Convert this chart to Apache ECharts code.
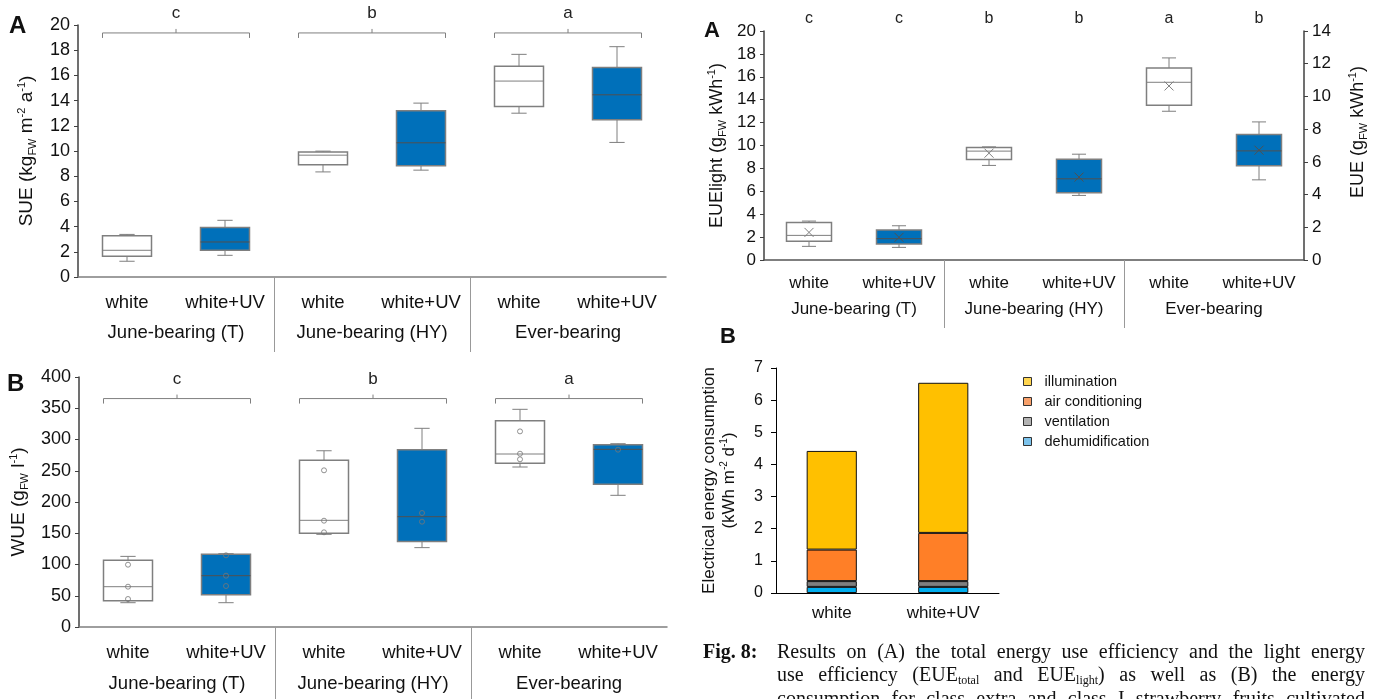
<!DOCTYPE html>
<html>
<head>
<meta charset="utf-8">
<script src="https://cdn.jsdelivr.net/npm/echarts@6/dist/echarts.min.js"></script>
<style>
  html, body { margin: 0; padding: 0; background: #fff; overflow: hidden; }
  #chart { position: absolute; left: 0; top: 0; width: 1384px; height: 699px; }
  #caption { position: absolute; left: 703px; top: 640px; width: 662px; color: #111;
    font-family: 'Liberation Serif', 'Times New Roman', serif; font-size: 20px; line-height: 23.3px; }
  #caption .fig { position: absolute; left: 0; top: 0; font-weight: bold; }
  #caption .txt { position: absolute; left: 74px; top: 0; width: 588px; }
  #caption .ln { text-align: justify; text-align-last: justify; height: 23.3px; }
  #caption sub { font-size: 12px; line-height: 0; vertical-align: -3px; }
</style>
</head>
<body>
<div id="chart"></div>
<div id="caption">
  <div class="fig">Fig. 8:</div>
  <div class="txt">
    <div class="ln">Results on (A) the total energy use efficiency and the light energy</div>
    <div class="ln">use efficiency (EUE<sub>total</sub> and EUE<sub>light</sub>) as well as (B) the energy</div>
    <div class="ln">consumption for class extra and class I strawberry fruits cultivated</div>
  </div>
</div>
<script>
// categories / groups
var categories = ['white', 'white+UV', 'white', 'white+UV', 'white', 'white+UV'];
var groups = ['June-bearing (T)', 'June-bearing (HY)', 'Ever-bearing'];

// SUE: [min, q1, median, q3, max] per cultivar
var sueWhite = [[1.25, 1.64, 2.12, 3.27, 3.38], [8.34, 8.9, 9.67, 9.93, 9.99], [13.0, 13.54, 15.55, 16.72, 17.67]];
var sueUV = [[1.72, 2.12, 2.78, 3.92, 4.5], [8.48, 8.82, 10.65, 13.19, 13.8], [10.68, 12.48, 14.46, 16.62, 18.28]];
var sueLetters = ['c', 'b', 'a'];

// WUE
var wueWhite = [[38.9, 42.1, 64.5, 106.7, 113], [148.3, 149.9, 170.7, 266.7, 282], [256, 261.9, 276.8, 330.1, 348.3]];
var wueUV = [[38.9, 51.7, 82.1, 116.3, 117.3], [127, 137, 176.5, 283.7, 317.9], [210.7, 228.3, 284.3, 291.7, 293.3]];
var wuePoints = [[99.7, 64.5, 44.8], [114.7, 82.1, 65.6], [250.7, 170.1, 151.5], [182.4, 168.5], [313, 277.3, 268.3], [283.7]];
var wueLetters = ['c', 'b', 'a'];

// EUElight: [min, q1, median, q3, max, mean]
var eueWhite = [[1.19, 1.63, 2.15, 3.28, 3.40, 2.41], [8.26, 8.78, 9.51, 9.83, 9.88, 9.33], [12.99, 13.52, 15.52, 16.77, 17.65, 15.2]];
var eueUV = [[1.10, 1.40, 1.86, 2.62, 2.99, 1.98], [5.64, 5.87, 7.09, 8.81, 9.24, 7.24], [7.0, 8.23, 9.53, 10.96, 12.06, 9.59]];
var eueLetters = ['c', 'c', 'b', 'b', 'a', 'b'];

// electrical energy consumption (stacked)
var barCats = ['white', 'white+UV'];
var dehumidification = [0.19, 0.19];
var ventilation = [0.18, 0.18];
var airConditioning = [0.98, 1.50];
var illumination = [3.07, 4.67];

// annotation levels (axis units)
var SUE_BRACKET = 19.37, SUE_LETTER = 20.96;
var WUE_BRACKET = 365.5, WUE_LETTER = 395.8;
var EUE_LETTER = 21.07;

var FONT = 'Liberation Sans, Arial, sans-serif';
var GRAY = '#7f7f7f';
var BLUE = '#0070ba';

var chart = echarts.init(document.getElementById('chart'));

function withIndex(arr, start, step) {
  return arr.map(function (d, i) { return [start + i * step].concat(d); });
}

function boxRender(fill, medianColor, withMean) {
  return function (params, api) {
    var x = api.value(0);
    var band = api.size([1, 0])[0];
    var cx = api.coord([x, 0])[0];
    var half = band * 0.25, cap = band * 0.078;
    var y = function (i) { return api.coord([x, api.value(i)])[1]; };
    var yMin = y(1), yQ1 = y(2), yMed = y(3), yQ3 = y(4), yMax = y(5);
    var ls = { stroke: GRAY, lineWidth: 1 };
    var kids = [
      { type: 'line', shape: { x1: cx, y1: yMax, x2: cx, y2: yQ3 }, style: ls },
      { type: 'line', shape: { x1: cx, y1: yQ1, x2: cx, y2: yMin }, style: ls },
      { type: 'line', shape: { x1: cx - cap, y1: yMax, x2: cx + cap, y2: yMax }, style: ls },
      { type: 'line', shape: { x1: cx - cap, y1: yMin, x2: cx + cap, y2: yMin }, style: ls },
      { type: 'rect', shape: { x: cx - half, y: yQ3, width: half * 2, height: yQ1 - yQ3 },
        style: { fill: fill, stroke: GRAY, lineWidth: 1.5 } },
      { type: 'line', shape: { x1: cx - half, y1: yMed, x2: cx + half, y2: yMed },
        style: { stroke: medianColor, lineWidth: 1 } }
    ];
    if (withMean) {
      var ym = y(6), m = 4.5;
      kids.push({ type: 'line', shape: { x1: cx - m, y1: ym - m, x2: cx + m, y2: ym + m }, style: { stroke: medianColor, lineWidth: 1 } });
      kids.push({ type: 'line', shape: { x1: cx - m, y1: ym + m, x2: cx + m, y2: ym - m }, style: { stroke: medianColor, lineWidth: 1 } });
    }
    return { type: 'group', children: kids };
  };
}

function bracketRender(letters) {
  return function (params, api) {
    var band = api.size([1, 0])[0];
    var x1 = api.coord([api.value(0), 0])[0] - band * 0.25;
    var x2 = api.coord([api.value(1), 0])[0] + band * 0.25;
    var yb = api.coord([api.value(0), api.value(2)])[1];
    var yt = api.coord([api.value(0), api.value(3)])[1];
    var xm = (x1 + x2) / 2;
    var ls = { stroke: GRAY, lineWidth: 1, fill: 'none' };
    return { type: 'group', children: [
      { type: 'polyline', shape: { points: [[x1, yb + 5], [x1, yb], [x2, yb], [x2, yb + 5]] }, style: ls },
      { type: 'line', shape: { x1: xm, y1: yb, x2: xm, y2: yb - 4 }, style: ls },
      { type: 'text', style: { text: letters[params.dataIndex], x: xm, y: yt, fill: '#222',
        fontSize: 17, fontFamily: FONT, align: 'center', verticalAlign: 'middle' } }
    ] };
  };
}

function letterRender(letters) {
  return function (params, api) {
    var p = api.coord([api.value(0), api.value(1)]);
    return { type: 'text', style: { text: letters[params.dataIndex], x: p[0], y: p[1], fill: '#222',
      fontSize: 16, fontFamily: FONT, align: 'center', verticalAlign: 'middle' } };
  };
}

function sepRender(len) {
  return function (params, api) {
    var band = api.size([1, 0])[0];
    var p = api.coord([api.value(0), 0]);
    var x = Math.round(p[0] + band / 2) + 0.5;
    return { type: 'line', shape: { x1: x, y1: p[1], x2: x, y2: p[1] + len }, style: { stroke: '#999', lineWidth: 1 } };
  };
}

function catAxis(grid, fs, margin, tickAlign, axisColor) {
  return {
    type: 'category', gridIndex: grid, position: 'bottom', data: categories, boundaryGap: true,
    axisLine: { lineStyle: { color: axisColor, width: 1.5 } },
    axisTick: { alignWithLabel: tickAlign, length: 4, lineStyle: { color: GRAY } },
    axisLabel: { fontSize: fs, fontFamily: FONT, color: '#111', margin: margin, interval: 0 },
    splitLine: { show: false }
  };
}
function boundaryTicks(grid) {
  return {
    type: 'category', gridIndex: grid, position: 'bottom', data: categories,
    axisLine: { show: false }, axisLabel: { show: false },
    axisTick: { length: 4, lineStyle: { color: GRAY } }, splitLine: { show: false }
  };
}
function groupAxis(grid, fs, margin) {
  return {
    type: 'category', gridIndex: grid, position: 'bottom', data: groups,
    axisLine: { show: false }, axisTick: { show: false },
    axisLabel: { fontSize: fs, fontFamily: FONT, color: '#111', margin: margin, interval: 0 },
    splitLine: { show: false }
  };
}
function valAxis(grid, max, interval, fs, name, gap, extra) {
  var ax = {
    type: 'value', gridIndex: grid, min: 0, max: max, interval: interval,
    axisLine: { show: true, lineStyle: { color: '#404040', width: 1.5 } },
    axisTick: { show: true, length: 4, lineStyle: { color: '#404040' } },
    axisLabel: { fontSize: fs, fontFamily: FONT, color: '#111', margin: 8 },
    splitLine: { show: false },
    name: name, nameLocation: 'middle', nameRotate: 90, nameGap: gap,
    nameTextStyle: {
      fontSize: fs + 1, fontFamily: FONT, color: '#111', lineHeight: 22,
      rich: {
        sub: { fontSize: 11, fontFamily: FONT, color: '#111', lineHeight: 8, verticalAlign: 'bottom' },
        sup: { fontSize: 11, fontFamily: FONT, color: '#111', lineHeight: 8, verticalAlign: 'top' }
      }
    }
  };
  if (extra) {
    if (extra.padding) ax.nameTextStyle.padding = extra.padding;
    if (extra.position) ax.position = extra.position;
  }
  return ax;
}

var sueBrackets = [0, 1, 2].map(function (g) { return [g * 2, g * 2 + 1, SUE_BRACKET, SUE_LETTER]; });
var wueBrackets = [0, 1, 2].map(function (g) { return [g * 2, g * 2 + 1, WUE_BRACKET, WUE_LETTER]; });
var eueLetterData = eueLetters.map(function (l, i) { return [i, EUE_LETTER]; });
var wuePointData = [];
wuePoints.forEach(function (pts, i) { pts.forEach(function (v) { wuePointData.push([i, v]); }); });
var separators = [[1], [3]];

var legendColors = { 'illumination': '#ffd54f', 'air conditioning': '#f8a06a', 'ventilation': '#b3b3b3', 'dehumidification': '#7cc3ec' };

var option = {
  animation: false,
  title: [
    { text: 'A', left: 9, top: 14, padding: 0, textStyle: { fontSize: 24, fontWeight: 'bold', fontFamily: FONT, color: '#111' } },
    { text: 'B', left: 7, top: 372, padding: 0, textStyle: { fontSize: 24, fontWeight: 'bold', fontFamily: FONT, color: '#111' } },
    { text: 'A', left: 704, top: 20, padding: 0, textStyle: { fontSize: 22, fontWeight: 'bold', fontFamily: FONT, color: '#111' } },
    { text: 'B', left: 720, top: 326, padding: 0, textStyle: { fontSize: 22, fontWeight: 'bold', fontFamily: FONT, color: '#111' } }
  ],
  legend: {
    orient: 'vertical', left: 1018, top: 369, itemWidth: 8, itemHeight: 8, itemGap: 5, icon: 'rect',
    itemStyle: { borderColor: '#333', borderWidth: 1 },
    textStyle: { fontSize: 14.5, fontFamily: FONT, color: '#111', padding: [0, 0, 0, 8] },
    data: ['illumination', 'air conditioning', 'ventilation', 'dehumidification'].map(function (n) {
      return { name: n, itemStyle: { color: legendColors[n] } };
    })
  },
  grid: [
    { left: 78, top: 25, width: 588, height: 252, outerBoundsMode: 'none' },
    { left: 79, top: 377, width: 588, height: 250, outerBoundsMode: 'none' },
    { left: 764, top: 31, width: 540, height: 229, outerBoundsMode: 'none' },
    { left: 776, top: 368, width: 223, height: 225, outerBoundsMode: 'none' }
  ],
  xAxis: [
    catAxis(0, 18.5, 16, true, GRAY), boundaryTicks(0), groupAxis(0, 18.5, 46),
    catAxis(1, 18.5, 16, true, GRAY), boundaryTicks(1), groupAxis(1, 18.5, 47),
    catAxis(2, 17, 15, true, '#555'), groupAxis(2, 17, 41),
    {
      type: 'category', gridIndex: 3, position: 'bottom', data: barCats,
      axisLine: { lineStyle: { color: '#000', width: 1 } },
      axisTick: { alignWithLabel: true, length: 5, lineStyle: { color: '#000' } },
      axisLabel: { fontSize: 17, fontFamily: FONT, color: '#111', margin: 12 }
    }
  ],
  yAxis: [
    valAxis(0, 20, 2, 18, 'SUE (kg{sub|FW} m{sup|-2} a{sup|-1})', 40),
    valAxis(1, 400, 50, 18, 'WUE (g{sub|FW} l{sup|-1})', 49),
    valAxis(2, 20, 2, 17, 'EUElight (g{sub|FW} kWh{sup|-1})', 36),
    valAxis(2, 14, 2, 17, 'EUE (g{sub|FW} kWh{sup|-1})', 43, { position: 'right', padding: [0, 0, 0, 27] }),
    {
      type: 'value', gridIndex: 3, min: 0, max: 7, interval: 1,
      axisLine: { show: true, lineStyle: { color: '#000' } },
      axisTick: { show: true, length: 5, lineStyle: { color: '#000' } },
      axisLabel: { fontSize: 16, fontFamily: FONT, color: '#111', margin: 13 },
      splitLine: { show: false },
      name: 'Electrical energy consumption\n(kWh m{sup|-2} d{sup|-1})', nameLocation: 'middle', nameRotate: 90, nameGap: 37,
      nameTextStyle: {
        fontSize: 17, fontFamily: FONT, color: '#111', lineHeight: 20,
        rich: { sup: { fontSize: 10, fontFamily: FONT, color: '#111', lineHeight: 8, verticalAlign: 'top' } }
      }
    }
  ],
  series: [
    // SUE
    { type: 'custom', xAxisIndex: 0, yAxisIndex: 0, renderItem: boxRender('#fff', GRAY, false), data: withIndex(sueWhite, 0, 2) },
    { type: 'custom', xAxisIndex: 0, yAxisIndex: 0, renderItem: boxRender(BLUE, '#505050', false), data: withIndex(sueUV, 1, 2) },
    { type: 'custom', xAxisIndex: 0, yAxisIndex: 0, renderItem: bracketRender(sueLetters), data: sueBrackets },
    { type: 'custom', xAxisIndex: 0, yAxisIndex: 0, renderItem: sepRender(75), data: separators },
    // WUE
    { type: 'custom', xAxisIndex: 3, yAxisIndex: 1, renderItem: boxRender('#fff', GRAY, false), data: withIndex(wueWhite, 0, 2) },
    { type: 'custom', xAxisIndex: 3, yAxisIndex: 1, renderItem: boxRender(BLUE, '#505050', false), data: withIndex(wueUV, 1, 2) },
    { type: 'scatter', xAxisIndex: 3, yAxisIndex: 1, symbol: 'circle', symbolSize: 5,
      itemStyle: { color: 'rgba(0,0,0,0)', borderColor: '#777', borderWidth: 1 }, data: wuePointData },
    { type: 'custom', xAxisIndex: 3, yAxisIndex: 1, renderItem: bracketRender(wueLetters), data: wueBrackets },
    { type: 'custom', xAxisIndex: 3, yAxisIndex: 1, renderItem: sepRender(75), data: separators },
    // EUE
    { type: 'custom', xAxisIndex: 6, yAxisIndex: 2, renderItem: boxRender('#fff', GRAY, true), data: withIndex(eueWhite, 0, 2) },
    { type: 'custom', xAxisIndex: 6, yAxisIndex: 2, renderItem: boxRender(BLUE, '#505050', true), data: withIndex(eueUV, 1, 2) },
    { type: 'custom', xAxisIndex: 6, yAxisIndex: 2, renderItem: letterRender(eueLetters), data: eueLetterData },
    { type: 'custom', xAxisIndex: 6, yAxisIndex: 2, renderItem: sepRender(68), data: separators },
    // energy consumption
    { name: 'dehumidification', type: 'bar', stack: 'e', xAxisIndex: 8, yAxisIndex: 4, barWidth: '45%',
      itemStyle: { color: '#00aeef', borderColor: '#111', borderWidth: 1 }, data: dehumidification },
    { name: 'ventilation', type: 'bar', stack: 'e', xAxisIndex: 8, yAxisIndex: 4, barWidth: '45%',
      itemStyle: { color: '#7f7f7f', borderColor: '#111', borderWidth: 1 }, data: ventilation },
    { name: 'air conditioning', type: 'bar', stack: 'e', xAxisIndex: 8, yAxisIndex: 4, barWidth: '45%',
      itemStyle: { color: '#ff7f27', borderColor: '#111', borderWidth: 1 }, data: airConditioning },
    { name: 'illumination', type: 'bar', stack: 'e', xAxisIndex: 8, yAxisIndex: 4, barWidth: '45%',
      itemStyle: { color: '#ffc000', borderColor: '#111', borderWidth: 1 }, data: illumination }
  ]
};

chart.setOption(option);
</script>
</body>
</html>
